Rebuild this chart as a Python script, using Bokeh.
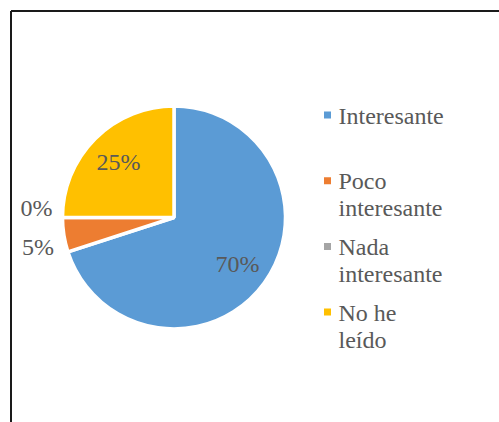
import math
import textwrap
from bokeh.plotting import figure
from bokeh.models import Range1d
from bokeh.core.properties import value
from bokeh.embed import file_html
from bokeh.resources import INLINE

# ---- data ----
categories = ["Interesante", "Poco interesante", "Nada interesante", "No he leído"]
percentages = [70, 5, 0, 25]
colors = ["#5B9BD5", "#ED7D31", "#A5A5A5", "#FFC000"]

# ---- layout (figure pixels == data units) ----
W, H = 499, 422
CX, CY = 173.5, H - 217.0
R = 111.5
FONT = "Liberation Serif"
FS = "24px"
TXT = "#595959"

p = figure(width=W, height=H, output_backend="svg", toolbar_location=None,
           x_axis_type=None, y_axis_type=None, min_border=0,
           x_range=Range1d(0, W), y_range=Range1d(0, H),
           outline_line_color=None, background_fill_color="white",
           border_fill_color="white")
p.grid.visible = False

# outer chart border (left and top visible, rest cropped)
BL, BT = 10.5, H - 10.5
p.segment(x0=[BL, BL], y0=[BT, BT], x1=[BL, W + 5], y1=[-5, BT],
          line_color="#1a1a1a", line_width=2)

# ---- wedges ----
total = sum(percentages)
starts, ends, mids = [], [], []
cum = 0.0
for v in percentages:
    a0 = math.pi / 2 - 2 * math.pi * cum / total
    cum += v
    a1 = math.pi / 2 - 2 * math.pi * cum / total
    starts.append(a0)
    ends.append(a1)
    mids.append((a0 + a1) / 2)

nz = [i for i, v in enumerate(percentages) if v > 0]
p.wedge(x=CX, y=CY, radius=R,
        start_angle=[starts[i] for i in nz], end_angle=[ends[i] for i in nz],
        direction="clock", fill_color=[colors[i] for i in nz],
        line_color="white", line_width=3.5)

# ---- data labels ----
in_x, in_y, in_t = [], [], []
out = []
for v, m in zip(percentages, mids):
    lab = f"{v}%"
    if v >= 10:
        in_x.append(CX + 0.705 * R * math.cos(m))
        in_y.append(CY + 0.705 * R * math.sin(m))
        in_t.append(lab)
    else:
        out.append([CX + (R + 10) * math.cos(m), CY + (R + 10) * math.sin(m), lab])

# spread outside labels to avoid overlap
if len(out) > 1:
    out.sort(key=lambda o: -o[1])
    gap = 39
    mean = sum(o[1] for o in out) / len(out)
    n = len(out)
    for i, o in enumerate(out):
        o[1] = mean + gap * ((n - 1) / 2 - i)

p.text(x=in_x, y=in_y, text=in_t, text_align="center", text_baseline="middle",
       text_font=value(FONT), text_font_size=FS, text_color=TXT)
p.text(x=[o[0] for o in out], y=[o[1] for o in out], text=[o[2] for o in out],
       text_align="right", text_baseline="middle",
       text_font=value(FONT), text_font_size=FS, text_color=TXT)

# ---- legend (manual, wrapped) ----
LX_MARK = 327
LX_TEXT = 338
LY0 = H - 115
ENTRY = 65.7
LINE = 27
mx, my, mc = [], [], []
tx, ty, tt = [], [], []
for i, (cat, col) in enumerate(zip(categories, colors)):
    y0 = LY0 - ENTRY * i
    mx.append(LX_MARK)
    my.append(y0 + 0.5)
    mc.append(col)
    for j, line in enumerate(textwrap.wrap(cat, width=10, break_long_words=False)):
        tx.append(LX_TEXT)
        ty.append(y0 - LINE * j)
        tt.append(line)

p.scatter(x=mx, y=my, marker="square", size=7, fill_color=mc, line_color=None)
p.text(x=tx, y=ty, text=tt, text_align="left", text_baseline="middle",
       text_font=value(FONT), text_font_size=FS, text_color=TXT)

open("out.html", "w").write(file_html(p, INLINE))
